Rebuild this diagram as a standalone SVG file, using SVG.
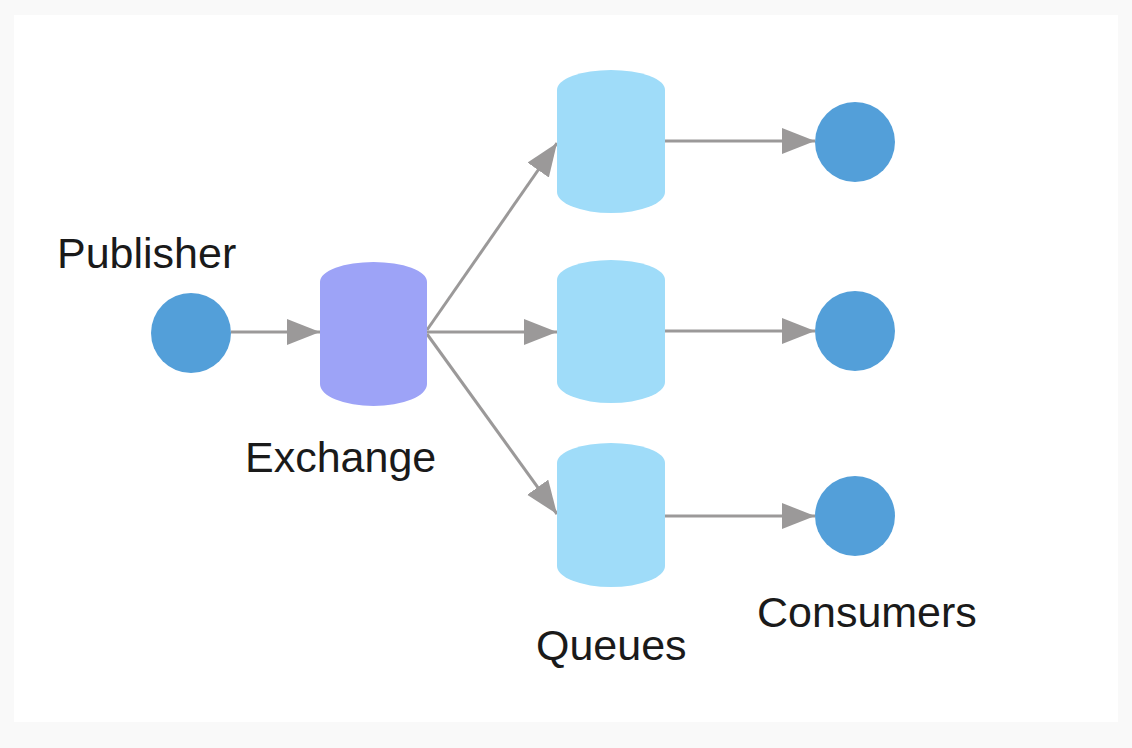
<svg xmlns="http://www.w3.org/2000/svg" width="1132" height="748" viewBox="0 0 1132 748">
  <style>
    .lbl { font-family: "Liberation Sans", Arial, sans-serif; font-size: 43px; fill: #1a1a1a; }
    .edge { stroke: #9b9999; stroke-width: 3; fill: none; marker-end: url(#arr); }
    .endpoint { fill: #539fd9; }
    .exchange { fill: #9da3f7; }
    .queue { fill: #9fdcf9; }
  </style>
  <defs>
    <marker id="arr" markerUnits="userSpaceOnUse" markerWidth="36" markerHeight="28" refX="33" refY="13" orient="auto" viewBox="0 0 36 28">
      <path d="M0,0 L33,13 L0,26 Z" fill="#9b9999"/>
    </marker>
  </defs>
  <rect x="0" y="0" width="1132" height="748" fill="#f9f9f9"/>
  <rect x="14" y="15" width="1104" height="707" fill="#ffffff"/>

  <g id="connectors">
    <line class="edge" x1="231" y1="332" x2="320" y2="332"/>
    <line class="edge" x1="427" y1="330" x2="557" y2="143"/>
    <line class="edge" x1="427" y1="332" x2="557" y2="332"/>
    <line class="edge" x1="427" y1="334" x2="557" y2="514"/>
    <line class="edge" x1="665" y1="141" x2="815" y2="141"/>
    <line class="edge" x1="665" y1="331" x2="815" y2="331"/>
    <line class="edge" x1="665" y1="516" x2="815" y2="516"/>
  </g>

  <g id="publisher">
    <circle class="endpoint" cx="191" cy="333" r="40"/>
    <text class="lbl" x="57" y="268">Publisher</text>
  </g>

  <g id="exchange">
    <path class="exchange" d="M320,282 A53.5,20 0 0 1 427,282 L427,384 A53.5,22 0 0 1 320,384 Z"/>
    <text class="lbl" x="245" y="472">Exchange</text>
  </g>

  <g id="queue1">
    <path class="queue" d="M557,90 A54,20 0 0 1 665,90 L665,192 A54,21 0 0 1 557,192 Z"/>
  </g>
  <g id="queue2">
    <path class="queue" d="M557,280 A54,20 0 0 1 665,280 L665,382 A54,21 0 0 1 557,382 Z"/>
  </g>
  <g id="queue3">
    <path class="queue" d="M557,463 A54,20 0 0 1 665,463 L665,566 A54,21 0 0 1 557,566 Z"/>
    <text class="lbl" x="536" y="660">Queues</text>
  </g>

  <g id="consumer1">
    <circle class="endpoint" cx="855" cy="142" r="40"/>
  </g>
  <g id="consumer2">
    <circle class="endpoint" cx="855" cy="331" r="40"/>
  </g>
  <g id="consumer3">
    <circle class="endpoint" cx="855" cy="516" r="40"/>
    <text class="lbl" x="757" y="627">Consumers</text>
  </g>
</svg>
